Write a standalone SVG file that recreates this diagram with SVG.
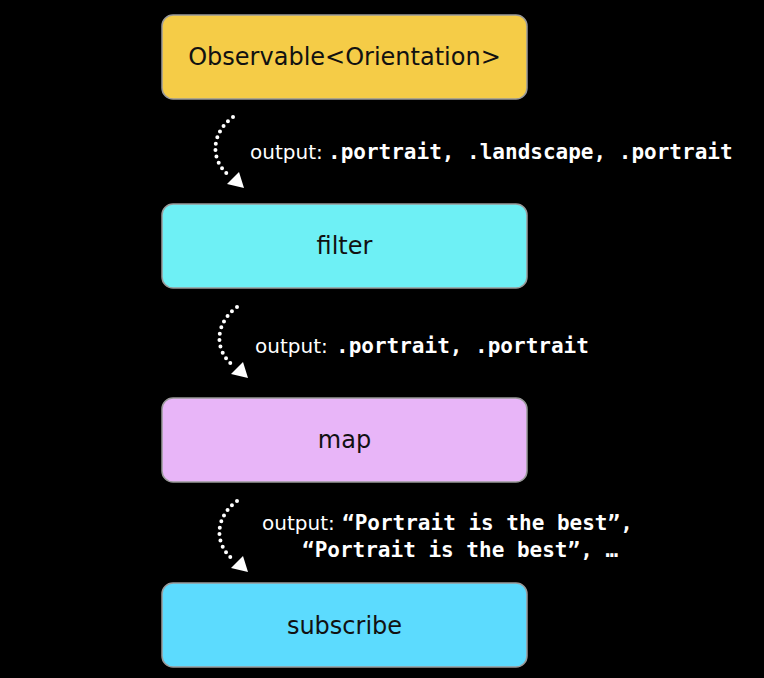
<svg xmlns="http://www.w3.org/2000/svg" width="764" height="678" viewBox="0 0 764 678">
<style>
.box{stroke:#9a9a9a;stroke-width:1.5}
.lbl{font-family:"DejaVu Sans",sans-serif;font-size:24px;fill:#111;text-anchor:middle}
.out{font-family:"DejaVu Sans",sans-serif;font-size:20px;fill:#fff}
.mono{font-family:"DejaVu Sans Mono",monospace;font-size:21px;fill:#fff;font-weight:bold}
.dot{fill:none;stroke:#fff;stroke-width:4;stroke-linecap:round;stroke-dasharray:0 6.5}
.head{fill:#fff}
</style>
<rect width="764" height="678" fill="#000"/>
<g id="n1"><rect class="box" x="162" y="15" width="365" height="84" rx="11" fill="#F5CC47"/><text class="lbl" x="344.5" y="65">Observable&lt;Orientation&gt;</text></g>
<g id="n2"><rect class="box" x="162" y="204" width="365" height="84" rx="11" fill="#6EF0F5"/><text class="lbl" x="344.5" y="254">filter</text></g>
<g id="n3"><rect class="box" x="162" y="398" width="365" height="84" rx="11" fill="#E8B5F8"/><text class="lbl" x="344.5" y="448">map</text></g>
<g id="n4"><rect class="box" x="162" y="583" width="365" height="84" rx="11" fill="#5CDBFE"/><text class="lbl" x="344.5" y="634">subscribe</text></g>
<g id="connectors">
<path class="dot" d="M233,117 C212,132 208,160 231,177"/>
<polygon class="head" points="244,188 227,184 239,172"/>
<path class="dot" d="M237,307 C216,322 212,350 235,367"/>
<polygon class="head" points="248,378 231,374 243,362"/>
<path class="dot" d="M237,501 C216,516 212,544 235,561"/>
<polygon class="head" points="248,572 231,568 243,556"/>
</g>
<g id="labels">
<text x="250" y="159"><tspan class="out">output:</tspan><tspan class="mono" x="328">.portrait, .landscape, .portrait</tspan></text>
<text x="255" y="353"><tspan class="out">output:</tspan><tspan class="mono" x="336">.portrait, .portrait</tspan></text>
<text x="262" y="530"><tspan class="out">output:</tspan><tspan class="mono" x="342">“Portrait is the best”,</tspan></text>
<text class="mono" x="302" y="557">“Portrait is the best”, …</text>
</g>
</svg>
